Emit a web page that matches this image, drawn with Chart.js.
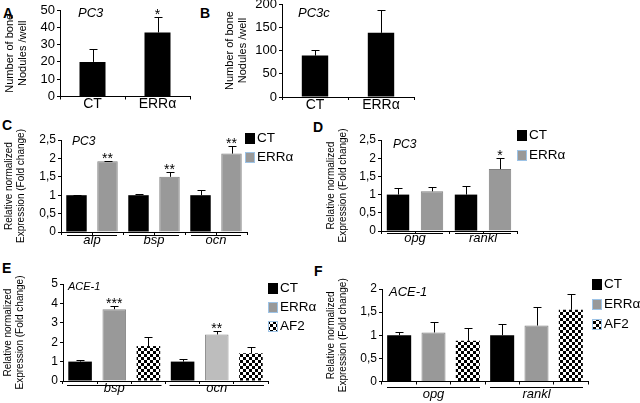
<!DOCTYPE html>
<html>
<head>
<meta charset="utf-8">
<script src="https://cdn.jsdelivr.net/npm/chart.js@4.4.0/dist/chart.umd.min.js"></script>
<style>
body { margin: 0; width: 640px; height: 403px; overflow: hidden; position: relative; background: #fff; font-family: "Liberation Sans", Arial, sans-serif; }
canvas { position: absolute; }
.tag { position: absolute; font-weight: bold; font-size: 14px; line-height: 14px; color: #000; }
</style>
</head>
<body>
<div class="tag" style="left:3px;top:6px">A</div>
<div class="tag" style="left:200px;top:6px">B</div>
<div class="tag" style="left:2px;top:118px">C</div>
<div class="tag" style="left:313px;top:120px">D</div>
<div class="tag" style="left:2px;top:261px">E</div>
<div class="tag" style="left:314px;top:264px">F</div>
<script>
// A - PC3 nodules
const aCats = ['CT', 'ERRα'];
const aVals = [20, 37];
const aSd = [7.5, 9];
const aStars = ['', '*'];
const aTicks = [0, 10, 20, 30, 40, 50];

// B - PC3c nodules
const bCats = ['CT', 'ERRα'];
const bVals = [89, 138];
const bSd = [12, 49];
const bStars = ['', ''];
const bTicks = [0, 50, 100, 150, 200];

// C - PC3 osteoblast markers
const cGenes = ['alp', 'bsp', 'ocn'];
const cCT = [1.0, 1.0, 1.0];
const cCTsd = [0.01, 0.04, 0.14];
const cERR = [1.92, 1.5, 2.13];
const cERRsd = [0.02, 0.12, 0.2];
const cStars = ['**', '**', '**'];
const cTicks = [0, 0.5, 1, 1.5, 2, 2.5];

// D - PC3 opg / rankl
const dGenes = ['opg', 'rankl'];
const dCT = [1.0, 1.0];
const dCTsd = [0.18, 0.23];
const dERR = [1.09, 1.7];
const dERRsd = [0.11, 0.3];
const dStars = ['', '*'];
const dTicks = [0, 0.5, 1, 1.5, 2, 2.5];

// E - ACE-1 bsp / ocn
const eGenes = ['bsp', 'ocn'];
const eCT = [1.0, 1.0];
const eCTsd = [0.1, 0.12];
const eERR = [3.7, 2.4];
const eERRsd = [0.15, 0.2];
const eAF2 = [1.8, 1.43];
const eAF2sd = [0.48, 0.3];
const eStars = ['***', '**'];
const eTicks = [0, 1, 2, 3, 4, 5];

// F - ACE-1 opg / rankl
const fGenes = ['opg', 'rankl'];
const fCT = [1.0, 1.0];
const fCTsd = [0.06, 0.24];
const fERR = [1.06, 1.21];
const fERRsd = [0.22, 0.4];
const fAF2 = [0.88, 1.55];
const fAF2sd = [0.27, 0.34];
const fTicks = [0, 0.5, 1, 1.5, 2];

const FAM = "'Liberation Sans', Arial, sans-serif";
const BLACK = '#000000';
const GREY = '#999999';
const GREY_LIGHT = '#bdbdbd';
const nodTitle = ['Number of bone', 'Nodules /well'];
const exprTitle = ['Relative normalized', 'Expression (Fold change)'];

Chart.defaults.font.family = FAM;
Chart.defaults.color = '#000';

// put a series' values in its own slot of every gene group
function spread(vals, si, nS) {
  const out = [];
  vals.forEach(v => { for (let s = 0; s < nS; s++) out.push(s === si ? v : null); });
  return out;
}
function slotLabels(genes, nS) {
  const out = [];
  genes.forEach(g => { for (let s = 0; s < nS; s++) out.push(g); });
  return out;
}
function checker(ctx) {
  const c = document.createElement('canvas');
  c.width = 6; c.height = 6;
  const g = c.getContext('2d');
  g.fillStyle = '#fff'; g.fillRect(0, 0, 6, 6);
  g.fillStyle = '#000'; g.fillRect(0, 0, 3, 3); g.fillRect(3, 3, 3, 3);
  return ctx.createPattern(c, 'repeat');
}

function extras(cfg) {
  return {
    id: 'extras',
    afterDatasetsDraw(chart) {
      const ctx = chart.ctx, y = chart.scales.y;
      ctx.save();
      ctx.strokeStyle = '#000'; ctx.fillStyle = '#000'; ctx.lineWidth = 1;
      chart.data.datasets.forEach((ds, di) => {
        const meta = chart.getDatasetMeta(di);
        const s = cfg.series[di];
        ds.data.forEach((v, i) => {
          if (v == null) return;
          const bar = meta.data[i];
          const top = Math.round(y.getPixelForValue(v + s.sd[i])) + 0.5;
          const bx = Math.round(bar.x) + 0.5;
          ctx.beginPath();
          ctx.moveTo(bx, bar.y); ctx.lineTo(bx, top);
          ctx.moveTo(bx - 4, top); ctx.lineTo(bx + 4, top);
          ctx.stroke();
          if (s.stars && s.stars[i]) {
            ctx.font = '14px ' + FAM;
            ctx.textAlign = 'center'; ctx.textBaseline = 'alphabetic';
            ctx.fillText(s.stars[i], bar.x, top + 1);
          }
        });
      });
      ctx.restore();
    },
    afterDraw(chart) {
      const ctx = chart.ctx, area = chart.chartArea, x = chart.scales.x;
      const [bx, by] = cfg.box;
      ctx.save();
      ctx.fillStyle = '#000'; ctx.strokeStyle = '#000'; ctx.lineWidth = 1;
      // cell line name inside the plot
      ctx.font = 'italic ' + cfg.tag.size + 'px ' + FAM;
      ctx.textAlign = 'left'; ctx.textBaseline = 'middle';
      ctx.fillText(cfg.tag.text, area.left + cfg.tag.dx, area.top + cfg.tag.dy);
      // gene groups under the axis
      if (cfg.groups) {
        const g = cfg.groups;
        const n = chart.data.labels.length;
        const cw = (area.right - area.left) / n;
        ctx.font = 'italic 13px ' + FAM;
        ctx.textAlign = 'center'; ctx.textBaseline = 'alphabetic';
        g.names.forEach((name, gi) => {
          const x0 = x.getPixelForValue(gi * g.per) - cw / 2;
          const x1 = x0 + g.per * cw;
          const ly = Math.round(area.bottom + g.lineOff) + 0.5;
          ctx.beginPath();
          ctx.moveTo(x0 + g.inset, ly); ctx.lineTo(x1 - g.inset, ly);
          ctx.stroke();
          ctx.fillText(name, (x0 + x1) / 2, area.bottom + g.baseOff);
        });
      }
      // legend
      if (cfg.legend) {
        const lx = cfg.legend.x - bx, ly = cfg.legend.y - by;
        ctx.font = '13.5px ' + FAM;
        ctx.textAlign = 'left'; ctx.textBaseline = 'middle';
        chart.data.datasets.forEach((ds, di) => {
          const cy = ly + di * cfg.legend.step;
          const bg = Array.isArray(ds.backgroundColor) ? ds.backgroundColor.find(c => c) : ds.backgroundColor;
          ctx.fillStyle = bg;
          ctx.fillRect(lx, Math.round(cy - 5.5), 10, 11);
          if (di > 0) {
            ctx.strokeStyle = '#9dc3e6';
            ctx.strokeRect(lx + 0.5, Math.round(cy - 5.5) + 0.5, 9, 10);
          }
          ctx.fillStyle = '#000';
          ctx.fillText(ds.label, lx + 12, cy);
        });
      }
      ctx.restore();
    }
  };
}

function panel(cfg) {
  const [bx, by, bw, bh] = cfg.box;
  const [pl, pt, pr, pb] = cfg.plot;
  const cv = document.createElement('canvas');
  cv.width = bw; cv.height = bh;
  cv.style.left = bx + 'px'; cv.style.top = by + 'px';
  document.body.appendChild(cv);
  const ctx = cv.getContext('2d');
  const datasets = cfg.series.map(s => ({
    label: s.label,
    data: s.data,
    backgroundColor: s.color === 'pattern' ? checker(ctx) : s.color,
    borderColor: s.border || '#000',
    borderWidth: s.border ? 1 : 0,
    barPercentage: cfg.barPct,
    categoryPercentage: 1,
    grouped: false
  }));
  const ticks = cfg.yTicks;
  new Chart(ctx, {
    type: 'bar',
    data: { labels: cfg.cats, datasets },
    options: {
      responsive: false,
      animation: false,
      events: [],
      layout: { padding: { left: 0, top: pt - by, right: bx + bw - pr, bottom: 0 } },
      plugins: { legend: { display: false }, tooltip: { enabled: false } },
      scales: {
        x: {
          grid: { drawOnChartArea: false, color: '#000', tickLength: 3 },
          border: { color: '#000' },
          ticks: {
            color: '#000', autoSkip: false, maxRotation: 0, padding: -2,
            font: { size: 14, lineHeight: 1 },
            callback: function (v) { return cfg.showCats ? this.getLabelForValue(v) : ''; }
          },
          afterFit: s => { s.height = by + bh - pb; }
        },
        y: {
          min: ticks[0],
          max: ticks[ticks.length - 1],
          afterBuildTicks: s => { s.ticks = ticks.map(v => ({ value: v })); },
          grid: { drawOnChartArea: false, color: '#000', tickLength: 3 },
          border: { color: '#000' },
          ticks: {
            color: '#000', padding: 2, autoSkip: false,
            font: { size: cfg.tickSize },
            callback: v => String(v).replace('.', ',')
          },
          title: {
            display: true, text: cfg.yTitle, color: '#000',
            font: { size: cfg.titleSize, lineHeight: cfg.titleLH },
            padding: { top: cfg.titlePad, bottom: 0 }
          },
          afterFit: s => { s.width = pl - bx; }
        }
      }
    },
    plugins: [extras(cfg)]
  });
}

panel({
  box: [0, 0, 200, 120], plot: [60, 10, 190, 96.5],
  cats: aCats, showCats: true, barPct: 0.4, yTicks: aTicks, tickSize: 13,
  yTitle: nodTitle, titleSize: 11, titleLH: 1.18, titlePad: 3,
  tag: { text: 'PC3', size: 13, dx: 18, dy: 3 },
  series: [{ label: 'nodules', data: aVals, sd: aSd, stars: aStars, color: BLACK }]
});

panel({
  box: [200, -6, 230, 126], plot: [282, 4, 414, 97],
  cats: bCats, showCats: true, barPct: 0.4, yTicks: bTicks, tickSize: 13,
  yTitle: nodTitle, titleSize: 11, titleLH: 1.18, titlePad: 23.5,
  tag: { text: 'PC3c', size: 13, dx: 16, dy: 9 },
  series: [{ label: 'nodules', data: bVals, sd: bSd, stars: bStars, color: BLACK }]
});

panel({
  box: [0, 125, 300, 130], plot: [61, 140, 247, 232],
  cats: slotLabels(cGenes, 2), barPct: 0.66, yTicks: cTicks, tickSize: 12,
  yTitle: exprTitle, titleSize: 10, titleLH: 1.2, titlePad: 3,
  tag: { text: 'PC3', size: 12, dx: 11, dy: 2 },
  groups: { names: cGenes, per: 2, lineOff: 3, baseOff: 12, inset: 6 },
  legend: { x: 245, y: 138, step: 19.5 },
  series: [
    { label: 'CT', data: spread(cCT, 0, 2), sd: spread(cCTsd, 0, 2), color: BLACK },
    { label: 'ERRα', data: spread(cERR, 1, 2), sd: spread(cERRsd, 1, 2), stars: spread(cStars, 1, 2), color: GREY, border: '#808080' }
  ]
});

panel({
  box: [320, 125, 300, 130], plot: [381, 140, 517, 231],
  cats: slotLabels(dGenes, 2), barPct: 0.66, yTicks: dTicks, tickSize: 12,
  yTitle: exprTitle, titleSize: 10, titleLH: 1.2, titlePad: 5,
  tag: { text: 'PC3', size: 12, dx: 12, dy: 5 },
  groups: { names: dGenes, per: 2, lineOff: 2, baseOff: 11, inset: 6 },
  legend: { x: 517, y: 135, step: 20 },
  series: [
    { label: 'CT', data: spread(dCT, 0, 2), sd: spread(dCTsd, 0, 2), color: BLACK },
    { label: 'ERRα', data: spread(dERR, 1, 2), sd: spread(dERRsd, 1, 2), stars: spread(dStars, 1, 2), color: GREY, border: '#808080' }
  ]
});

const eErrColors = spread([GREY, GREY_LIGHT], 1, 3);
panel({
  box: [0, 270, 320, 133], plot: [63, 284, 268, 381],
  cats: slotLabels(eGenes, 3), barPct: 0.69, yTicks: eTicks, tickSize: 12,
  yTitle: exprTitle, titleSize: 10, titleLH: 1.2, titlePad: 2.5,
  tag: { text: 'ACE-1', size: 11, dx: 5, dy: 3 },
  groups: { names: eGenes, per: 3, lineOff: 4, baseOff: 11, inset: 4 },
  legend: { x: 268, y: 288, step: 19.3 },
  series: [
    { label: 'CT', data: spread(eCT, 0, 3), sd: spread(eCTsd, 0, 3), color: BLACK },
    { label: 'ERRα', data: spread(eERR, 1, 3), sd: spread(eERRsd, 1, 3), stars: spread(eStars, 1, 3), color: eErrColors, border: '#8c8c8c' },
    { label: 'AF2', data: spread(eAF2, 2, 3), sd: spread(eAF2sd, 2, 3), color: 'pattern' }
  ]
});

panel({
  box: [320, 270, 320, 133], plot: [382, 289, 588, 381.5],
  cats: slotLabels(fGenes, 3), barPct: 0.7, yTicks: fTicks, tickSize: 12,
  yTitle: exprTitle, titleSize: 10, titleLH: 1.2, titlePad: 5,
  tag: { text: 'ACE-1', size: 13, dx: 7, dy: 3 },
  groups: { names: fGenes, per: 3, lineOff: 5, baseOff: 16, inset: 5 },
  legend: { x: 592, y: 284, step: 20 },
  series: [
    { label: 'CT', data: spread(fCT, 0, 3), sd: spread(fCTsd, 0, 3), color: BLACK },
    { label: 'ERRα', data: spread(fERR, 1, 3), sd: spread(fERRsd, 1, 3), color: GREY, border: '#808080' },
    { label: 'AF2', data: spread(fAF2, 2, 3), sd: spread(fAF2sd, 2, 3), color: 'pattern' }
  ]
});
</script>
</body>
</html>
